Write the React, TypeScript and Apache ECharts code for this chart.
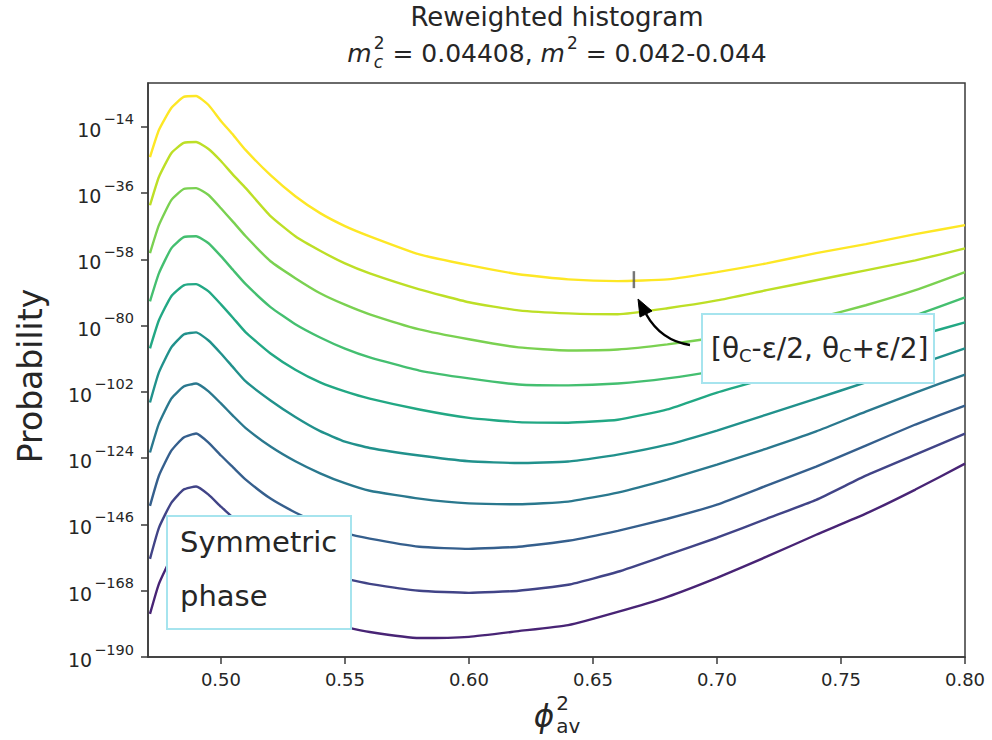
import React, { useEffect, useRef } from "react";
import * as echarts from "echarts";

// x values (phi_av^2) shared by all curves
const phi2 = [0.4714, 0.475, 0.48, 0.485, 0.49, 0.495, 0.5, 0.505, 0.51, 0.52, 0.53, 0.54, 0.55, 0.56, 0.58, 0.6, 0.62, 0.64, 0.66, 0.68, 0.7, 0.72, 0.74, 0.76, 0.78, 0.8];

// log10(Probability) for each reweighted curve, top (yellow) to bottom (purple)
const curve1 = [-24.0, -15.0, -7.7, -4.0, -3.7, -6.7, -12.0, -16.7, -21.7, -30.0, -37.0, -42.6, -46.9, -50.3, -56.3, -59.9, -62.9, -64.6, -65.2, -64.6, -62.2, -59.3, -55.9, -52.9, -49.6, -46.6];
const curve2 = [-40.0, -30.6, -22.7, -19.3, -19.0, -21.3, -25.3, -30.0, -34.3, -43.6, -50.3, -55.1, -59.3, -62.6, -67.9, -72.2, -74.9, -75.9, -76.2, -74.2, -71.6, -68.2, -64.9, -61.6, -58.3, -54.3];
const curve3 = [-55.9, -46.6, -38.3, -34.6, -34.3, -36.6, -41.0, -45.6, -50.3, -58.6, -64.2, -69.2, -73.0, -76.2, -81.2, -84.5, -87.2, -88.2, -87.9, -86.2, -83.9, -81.2, -77.5, -73.2, -68.2, -62.2];
const curve4 = [-71.9, -62.6, -54.3, -50.6, -50.3, -52.6, -56.9, -61.6, -66.2, -73.8, -79.5, -83.9, -87.6, -90.5, -94.9, -97.5, -99.5, -99.8, -99.2, -97.5, -94.9, -91.5, -87.2, -82.2, -76.6, -70.6];
const curve5 = [-87.5, -78.2, -70.2, -66.6, -66.2, -68.6, -72.9, -77.5, -82.2, -89.2, -94.6, -98.8, -101.8, -104.2, -107.8, -110.6, -112.0, -112.2, -111.2, -107.8, -102.2, -97.5, -92.9, -88.2, -83.5, -78.9];
const curve6 = [-105.5, -95.5, -87.2, -82.9, -82.2, -84.9, -89.2, -93.9, -98.5, -104.8, -110.3, -115.0, -118.5, -120.6, -123.1, -125.0, -125.6, -125.1, -122.8, -119.5, -114.8, -109.5, -104.2, -98.8, -93.2, -87.5];
const curve7 = [-122.1, -112.5, -104.2, -100.2, -99.2, -101.8, -105.8, -110.0, -114.0, -120.1, -125.0, -129.0, -132.3, -134.8, -137.4, -139.0, -139.3, -138.4, -135.4, -131.1, -126.1, -120.8, -115.1, -108.5, -102.2, -96.2];
const curve8 = [-139.8, -129.8, -121.5, -117.1, -115.8, -118.8, -123.1, -127.1, -131.1, -137.4, -142.0, -145.8, -148.8, -150.7, -153.4, -154.1, -153.4, -151.4, -148.1, -144.1, -139.4, -133.1, -126.8, -119.8, -112.8, -106.5];
const curve9 = [-157.4, -147.1, -138.8, -134.4, -133.4, -136.1, -140.1, -143.8, -148.1, -154.4, -158.8, -162.0, -164.0, -165.7, -168.0, -168.7, -168.0, -166.0, -161.7, -156.1, -150.4, -144.1, -137.8, -129.8, -122.8, -115.8];
const curve10 = [-175.7, -165.7, -157.1, -152.1, -151.1, -153.4, -157.1, -161.4, -165.4, -171.2, -175.2, -178.0, -180.0, -181.7, -183.7, -183.3, -181.4, -179.4, -175.0, -170.0, -163.7, -156.7, -149.4, -142.4, -134.4, -125.8];

const curves = [curve1, curve2, curve3, curve4, curve5, curve6, curve7, curve8, curve9, curve10];
const curveColors = ["#fde725", "#bddf26", "#7ad151", "#44bf70", "#22a884", "#21918c", "#2a788e", "#355f8d", "#414487", "#482475"];

const xTicks = [0.5, 0.55, 0.6, 0.65, 0.7, 0.75, 0.8];
const yTickExps = [-190, -168, -146, -124, -102, -80, -58, -36, -14];
const markerPoint = [0.6665, -64.7];

const FONT = "DejaVu Sans";
const TXT = "#262626";

function measure(text: string, size: number, italic = false): number {
  const ctx = document.createElement("canvas").getContext("2d")!;
  ctx.font = `${italic ? "italic " : ""}${size}px "${FONT}"`;
  return ctx.measureText(text).width;
}

type Part = { t: string; size: number; italic?: boolean; dy: number; pad?: number };

function buildLine(runs: Part[][], x0: number, cy: number, align: "left" | "center") {
  const widths = runs.map((r) => Math.max(...r.map((p) => measure(p.t, p.size, p.italic) + (p.pad || 0))));
  const total = widths.reduce((a, b) => a + b, 0);
  let x = align === "center" ? x0 - total / 2 : x0;
  const els: any[] = [];
  runs.forEach((r, i) => {
    r.forEach((p) => {
      els.push({
        type: "text",
        x,
        y: cy + p.dy,
        z: 100,
        style: {
          text: p.t,
          fontSize: p.size,
          fontFamily: FONT,
          fontStyle: p.italic ? "italic" : "normal",
          fill: TXT,
          align: "left",
          verticalAlign: "middle",
          textAlign: "left",
          textVerticalAlign: "middle",
        },
      });
    });
    x += widths[i];
  });
  return els;
}

function textEl(t: string, x: number, y: number, size: number, align = "left", rotation = 0) {
  return {
    type: "text",
    x,
    y,
    rotation,
    z: 100,
    style: {
      text: t,
      fontSize: size,
      fontFamily: FONT,
      fill: TXT,
      align,
      verticalAlign: "middle",
      textAlign: align,
      textVerticalAlign: "middle",
    },
  };
}

export default function App() {
  const ref = useRef<HTMLDivElement>(null);
  useEffect(() => {
    if (!ref.current) return;
    const chart = echarts.init(ref.current, undefined, { renderer: "svg" });

    const F = 25;
    const s = 17;
    const titleLine2 = buildLine(
      [
        [{ t: "m", size: F, italic: true, dy: 0, pad: 2 }],
        [
          { t: "2", size: s, dy: -0.4 * F },
          { t: "c", size: s, italic: true, dy: 0.34 * F },
        ],
        [{ t: " = 0.04408, ", size: F, dy: 0 }],
        [{ t: "m", size: F, italic: true, dy: 0, pad: 2 }],
        [{ t: "2", size: s, dy: -0.4 * F }],
        [{ t: " = 0.042-0.044", size: F, dy: 0 }],
      ],
      557,
      53,
      "center"
    );

    const xName = buildLine(
      [
        [{ t: "ϕ", size: 31, italic: true, dy: 0, pad: 2 }],
        [
          { t: "2", size: 20, dy: -13 },
          { t: "av", size: 20, dy: 10 },
        ],
      ],
      557,
      716,
      "center"
    );

    const BF = 29;
    const box2Text = buildLine(
      [
        [{ t: "[θ", size: 28, dy: 0 }],
        [{ t: "C", size: 18, dy: 7 }],
        [{ t: "-ε/2, θ", size: 28, dy: 0 }],
        [{ t: "C", size: 18, dy: 7 }],
        [{ t: "+ε/2]", size: 28, dy: 0 }],
      ],
      711,
      348,
      "left"
    );

    const boxStyle = { fill: "#ffffff", stroke: "#a6e4ee", lineWidth: 2 };

    const series: any[] = curves.map((c, i) => ({
      type: "line",
      name: `curve${i + 1}`,
      data: phi2.map((x, j) => [x, c[j]]),
      showSymbol: false,
      symbol: "none",
      smooth: 0.15,
      lineStyle: { color: curveColors[i], width: 2.4 },
      itemStyle: { color: curveColors[i] },
      z: 3,
    }));
    series.push({
      type: "scatter",
      data: [markerPoint],
      symbol: "rect",
      symbolSize: [2.5, 17],
      itemStyle: { color: "#555555" },
      z: 5,
    });

    chart.setOption({
      animation: false,
      grid: {
        left: 148,
        top: 83,
        right: 27,
        bottom: 83,
        show: true,
        borderColor: "#3a3a3a",
        borderWidth: 1.5,
        backgroundColor: "transparent",
      },
      xAxis: {
        type: "value",
        min: 0.4706,
        max: 0.8,
        axisLine: { show: true, onZero: false, lineStyle: { color: "#3a3a3a", width: 1.5 } },
        axisTick: { show: true, customValues: xTicks, length: 7, lineStyle: { color: "#3a3a3a", width: 1.5 } },
        axisLabel: {
          customValues: xTicks,
          formatter: (v: number) => v.toFixed(2),
          fontFamily: FONT,
          fontSize: 18,
          color: TXT,
          margin: 13,
        },
        splitLine: { show: false },
      },
      yAxis: {
        type: "value",
        min: -190,
        max: 0.6,
        axisLine: { show: true, onZero: false, lineStyle: { color: "#3a3a3a", width: 1.5 } },
        axisTick: { show: true, customValues: yTickExps, length: 7, lineStyle: { color: "#3a3a3a", width: 1.5 } },
        axisLabel: {
          customValues: yTickExps,
          formatter: (v: number) => `{b|10}{s|−${Math.abs(v)}}`,
          margin: 14,
          rich: {
            b: { fontFamily: FONT, fontSize: 19, color: TXT, lineHeight: 30, padding: [6, 0, 0, 0] },
            s: { fontFamily: FONT, fontSize: 14.5, color: TXT, verticalAlign: "top", padding: [0, 0, 0, 2] },
          },
        },
        splitLine: { show: false },
      },
      series,
      graphic: [
        textEl("Reweighted histogram", 557, 17, 26, "center"),
        ...titleLine2,
        ...xName,
        textEl("Probability", 30, 376, 33, "center", Math.PI / 2),
        { type: "rect", z: 90, shape: { x: 167, y: 516, width: 184, height: 113 }, style: boxStyle },
        textEl("Symmetric", 180, 542, BF, "left"),
        textEl("phase", 180, 596, BF, "left"),
        { type: "rect", z: 90, shape: { x: 702, y: 314, width: 232, height: 69 }, style: boxStyle },
        ...box2Text,
        {
          type: "bezierCurve",
          z: 95,
          shape: { x1: 690, y1: 345, cpx1: 670, cpy1: 342, cpx2: 655, cpy2: 330, x2: 646, y2: 314 },
          style: { stroke: "#000000", lineWidth: 2.5, fill: null },
        },
        {
          type: "polygon",
          z: 95,
          shape: { points: [[638, 299], [652, 311], [640, 317]] },
          style: { fill: "#000000", stroke: "#000000", lineWidth: 1 },
        },
      ],
    });
    return () => chart.dispose();
  }, []);
  return <div ref={ref} style={{ position: "fixed", left: 0, top: 0, width: 992, height: 740, background: "#fff" }} />;
}
